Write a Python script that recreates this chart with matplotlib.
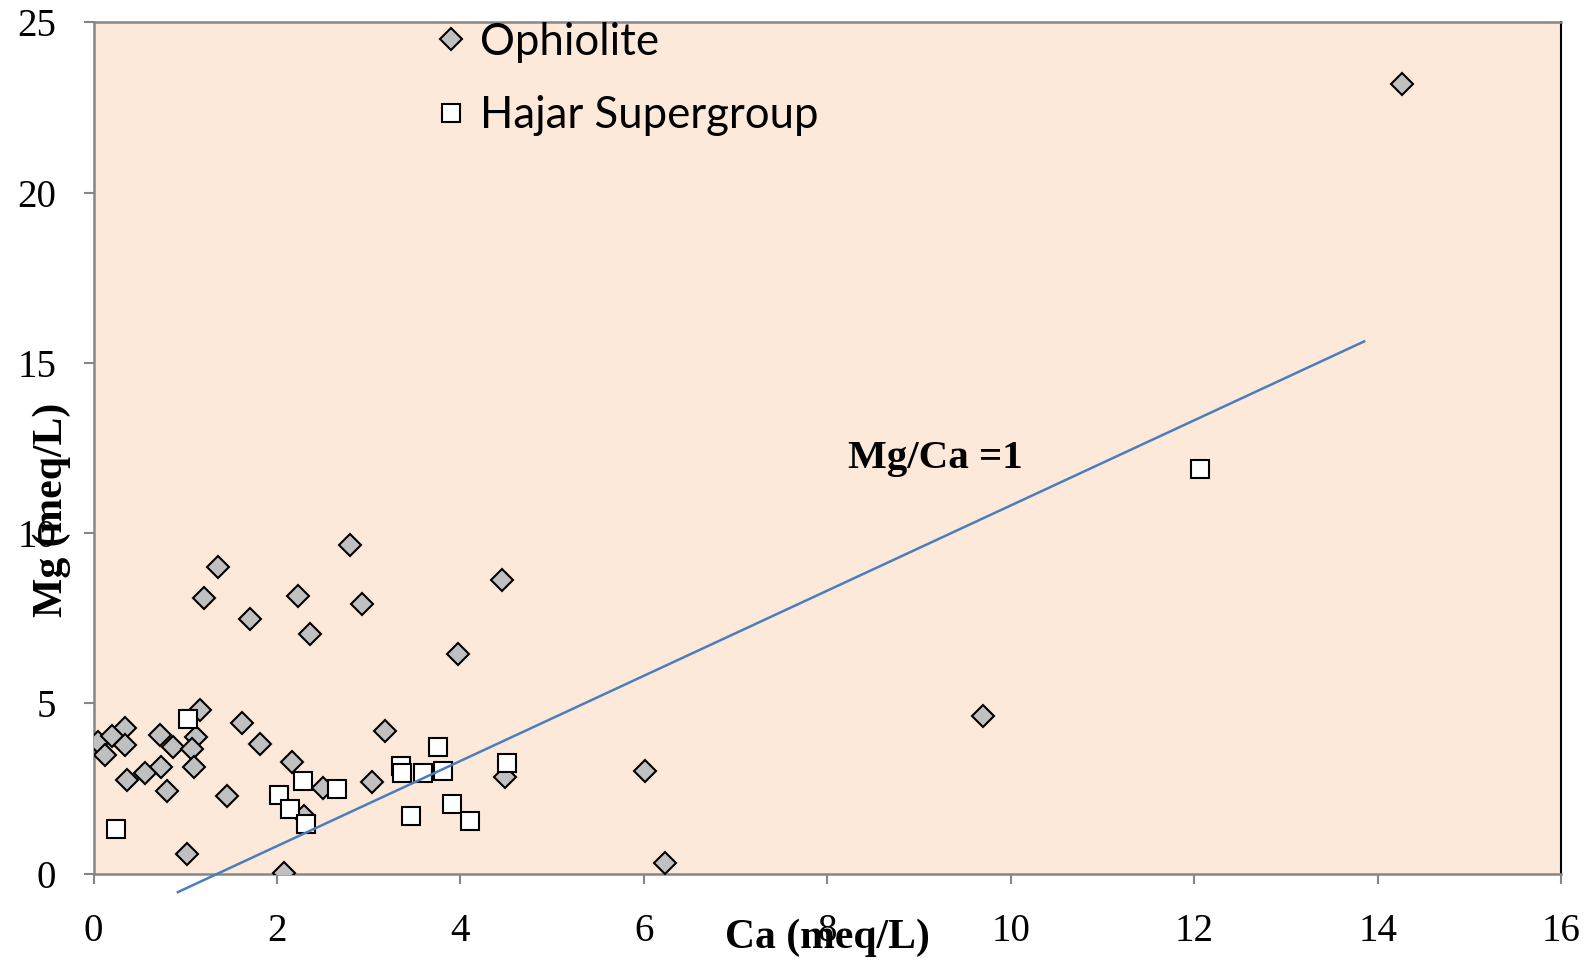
import matplotlib
matplotlib.use("Agg")
import matplotlib.pyplot as plt

# Ophiolite samples (Ca, Mg in meq/L)
oph_ca = [1.36, 1.20, 2.23, 1.71, 2.36, 1.16, 0.34, 0.05, 0.20, 0.13, 0.34, 0.72, 0.87,
          1.12, 1.07, 1.09, 0.74, 0.56, 0.37, 0.80, 1.45, 1.62, 1.81, 2.16, 1.02, 2.08,
          2.50, 2.29, 2.80, 4.45, 2.93, 3.97, 3.18, 3.04, 4.49, 6.01, 6.23, 9.70, 14.26]
oph_mg = [9.01, 8.10, 8.14, 7.49, 7.04, 4.82, 4.29, 3.87, 4.04, 3.48, 3.77, 4.06, 3.72,
          4.00, 3.67, 3.12, 3.12, 2.95, 2.76, 2.44, 2.29, 4.43, 3.80, 3.27, 0.58, 0.03,
          2.53, 1.70, 9.65, 8.63, 7.92, 6.45, 4.19, 2.70, 2.83, 3.01, 0.30, 4.64, 23.2]

# Hajar Supergroup samples
haj_ca = [0.25, 1.03, 2.28, 2.02, 2.14, 2.32, 2.65, 3.75, 3.35, 3.36, 3.59, 3.81, 4.51,
          3.46, 3.91, 4.10, 12.06]
haj_mg = [1.32, 4.53, 2.73, 2.32, 1.90, 1.46, 2.50, 3.72, 3.15, 2.95, 2.95, 3.02, 3.24,
          1.69, 2.05, 1.54, 11.89]

# reference line as drawn
line_ca = [0.92, 13.85]
line_mg = [-0.54, 15.63]

xticks = [0, 2, 4, 6, 8, 10, 12, 14, 16]
yticks = [0, 5, 10, 15, 20, 25]

fig = plt.figure(figsize=(15.93, 9.6), dpi=100)
ax = fig.add_axes([0.0587, 0.0899, 0.9215, 0.8869])
ax.set_facecolor("#FDE9DA")

ax.plot(oph_ca, oph_mg, linestyle="none", marker="D", markersize=11.5,
        markerfacecolor="#C0C0C0", markeredgecolor="black", markeredgewidth=1.5,
        label="Ophiolite", zorder=3)
ax.plot(haj_ca, haj_mg, linestyle="none", marker="s", markersize=13.5,
        markerfacecolor="white", markeredgecolor="black", markeredgewidth=1.5,
        label="Hajar Supergroup", zorder=4)
ax.plot(line_ca, line_mg, color="#4A7EBB", linewidth=1.8, clip_on=False, zorder=5)

ax.text(9.18, 12.18, "Mg/Ca =1", fontfamily="Liberation Serif", fontweight="bold",
        fontsize=29.5, ha="center", va="center")

ax.set_xlim(0, 16)
ax.set_ylim(0, 25)
ax.set_xticks(xticks)
ax.set_yticks(yticks)
ax.tick_params(axis="both", direction="out", length=7.5, width=1.5, color="#868686",
               labelsize=28, labelfontfamily="Liberation Serif")
ax.tick_params(axis="x", pad=20.5)
ax.tick_params(axis="y", pad=19.5)

for side in ["left", "bottom", "top"]:
    ax.spines[side].set_color("#868686")
    ax.spines[side].set_linewidth(1.8)
ax.spines["right"].set_color("black")
ax.spines["right"].set_linewidth(1.5)

ax.set_xlabel("Ca (meq/L)", fontfamily="Liberation Serif", fontweight="bold", fontsize=30)
ax.xaxis.label.set_va("center")
ax.xaxis.set_label_coords(0.5, -0.075)
ax.set_ylabel("Mg (meq/L)", fontfamily="Liberation Serif", fontweight="bold", fontsize=30)
ax.yaxis.label.set_va("center")
ax.yaxis.label.set_ha("center")
ax.yaxis.set_label_coords(-0.0283, 0.427)

leg = ax.legend(loc="upper left", bbox_to_anchor=(0.208, 1.047), frameon=False,
                prop={"family": "Lato", "size": 31.5}, markerscale=1.0,
                handlelength=0.6, handletextpad=0.35, labelspacing=0.74)

fig.savefig("out.png", dpi=100)
